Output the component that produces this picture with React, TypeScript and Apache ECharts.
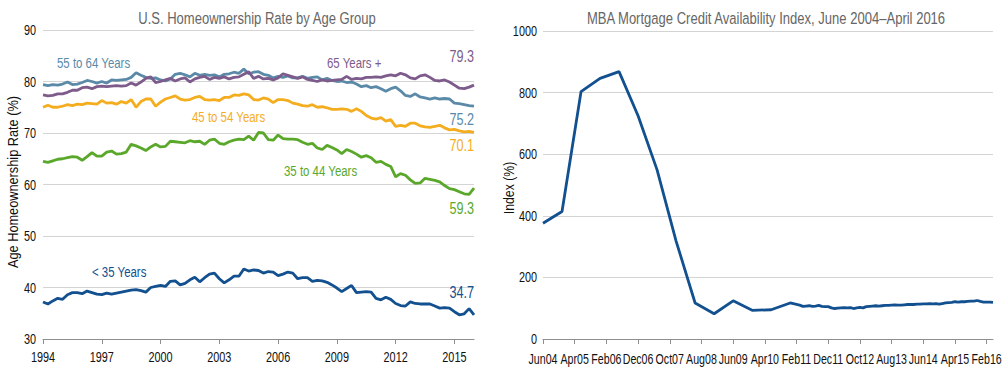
import React, { useEffect, useRef } from "react";
import * as echarts from "echarts";

// ---------- Left chart: quarterly homeownership rates, 1994 Q1 – 2016 Q1 ----------
const firstYear = 1994;
const yearTicks = ["1994", "1997", "2000", "2003", "2006", "2009", "2012", "2015"];
const leftYTicks = [30, 40, 50, 60, 70, 80, 90];

const age55to64 = [
  79.4, 79.2, 79.4, 79.3, 79.5, 79.9, 79.4, 79.5, 79.8, 80.2, 80.0, 79.7,
  80.0, 79.7, 80.3, 80.2, 80.3, 80.4, 80.8, 81.7, 81.2, 80.8, 80.6, 80.7,
  80.3, 80.1, 80.5, 81.4, 81.6, 81.3, 80.9, 81.6, 81.2, 81.4, 81.2, 81.3,
  80.9, 81.4, 81.5, 81.8, 81.6, 82.4, 81.5, 81.8, 81.9, 81.4, 81.2, 80.7,
  81.0, 80.8, 81.1, 80.7, 80.7, 81.0, 80.6, 80.8, 80.9, 80.3, 80.6, 80.2,
  80.0, 80.1, 79.8, 79.9, 79.5, 79.0, 79.2, 78.8, 79.0, 78.6, 78.1, 78.6,
  78.9, 78.2, 77.3, 77.1, 77.6, 77.0, 76.8, 76.6, 76.8, 76.6, 76.7, 76.6,
  75.8, 75.7, 75.5, 75.3, 75.2,
];

const age65plus = [
  77.4, 77.2, 77.3, 77.6, 77.6, 77.9, 78.3, 78.3, 78.8, 78.9, 78.6, 79.0,
  79.1, 79.0, 79.1, 79.2, 79.1, 79.2, 79.7, 79.3, 79.9, 80.6, 80.9, 79.8,
  80.0, 80.3, 80.6, 80.1, 80.5, 80.7, 79.9, 80.5, 80.8, 81.0, 80.4, 80.8,
  80.6, 80.9, 80.5, 80.8, 80.9, 81.4, 81.9, 80.6, 81.0, 80.5, 80.6, 80.3,
  80.7, 81.5, 81.2, 80.9, 80.6, 80.9, 80.4, 80.2, 80.0, 80.3, 80.1, 80.2,
  80.3, 80.4, 81.0, 80.4, 80.6, 80.5, 80.8, 80.8, 80.9, 80.8, 81.1, 81.3,
  81.1, 81.6, 81.3, 80.7, 80.5, 81.1, 81.3, 80.8, 80.2, 80.1, 80.3, 79.9,
  79.3, 78.7, 78.6, 78.9, 79.3,
];

const age45to54 = [
  75.0, 75.4, 75.0, 75.0, 75.2, 75.5, 75.3, 75.6, 75.5, 75.8, 75.7, 75.6,
  76.3, 75.8, 75.9, 75.6, 76.1, 75.8, 76.5, 75.0, 76.1, 76.6, 76.6, 75.2,
  76.0, 76.6, 76.9, 77.2, 76.6, 76.4, 76.5, 76.9, 77.1, 76.5, 76.4, 76.5,
  76.3, 76.9, 76.9, 77.4, 77.3, 77.6, 77.4, 76.5, 76.4, 76.8, 76.6, 75.9,
  76.5, 76.5, 76.3, 75.8, 75.6, 75.3, 75.2, 75.5, 75.0, 75.1, 74.9, 74.6,
  74.6, 74.7, 74.6, 74.2, 74.7, 74.2, 73.4, 72.9, 72.7, 73.0, 72.3, 72.6,
  71.3, 71.5, 71.3, 71.9, 71.9, 71.4, 71.2, 71.1, 71.3, 71.5, 71.0, 70.6,
  70.7, 70.4, 70.2, 70.3, 70.1,
];

const age35to44 = [
  64.5, 64.3, 64.6, 64.9, 65.0, 65.2, 65.4, 65.3, 64.7, 65.4, 66.2, 65.5,
  65.5, 66.3, 66.5, 65.9, 66.0, 66.3, 67.8, 67.5, 67.1, 66.6, 67.3, 67.8,
  67.3, 67.4, 68.4, 68.3, 68.2, 68.1, 68.5, 68.3, 68.4, 67.8, 68.6, 68.8,
  68.0, 67.8, 68.3, 68.6, 68.8, 68.7, 69.4, 68.6, 70.1, 70.0, 68.7, 68.6,
  69.6, 68.9, 68.8, 68.8, 68.7, 68.2, 67.8, 68.0, 67.1, 66.8, 67.6, 67.2,
  66.7, 66.0, 66.8, 66.4, 65.9, 65.3, 65.6, 65.2, 64.3, 64.5, 63.9, 63.5,
  61.5, 62.1, 61.8, 60.9, 60.2, 60.3, 61.2, 61.0, 60.8, 60.5, 59.8, 59.2,
  59.0, 58.6, 58.2, 58.1, 59.3,
];

const under35 = [
  37.2, 36.8, 37.4, 37.9, 37.7, 38.6, 39.0, 39.0, 38.8, 39.3, 39.0, 38.7,
  38.6, 38.9, 38.7, 38.9, 39.1, 39.3, 39.5, 39.6, 39.4, 39.1, 40.0, 40.2,
  40.4, 40.2, 41.2, 41.3, 40.5, 40.8, 41.5, 42.0, 41.1, 41.9, 42.6, 42.8,
  41.7, 40.9, 41.5, 42.2, 42.2, 43.6, 43.2, 43.4, 43.3, 42.8, 43.1, 43.0,
  42.3, 42.6, 43.0, 42.8, 41.7, 41.9, 41.9, 41.2, 41.4, 41.3, 41.0, 40.5,
  39.9, 39.2, 39.8, 40.4, 39.0, 39.1, 39.2, 39.1, 37.9, 37.6, 38.1, 37.7,
  36.9, 36.5, 36.4, 37.2, 36.9, 36.8, 36.8, 36.8, 36.4, 36.0, 36.1, 36.0,
  35.3, 34.7, 34.9, 35.9, 34.7,
];

// ---------- Right chart: MBA Mortgage Credit Availability Index ----------
const monthNames = ["Jan", "Feb", "Mar", "Apr", "May", "Jun", "Jul", "Aug", "Sep", "Oct", "Nov", "Dec"];
const rightYTicks = [0, 200, 400, 600, 800, 1000];
const monthTickStep = 10;
// semiannual readings, Jun 2004 – Dec 2010
const mbaSemiannual = [376, 414, 803, 846, 868, 725, 549, 318, 117, 82, 124, 93, 95, 117];
// monthly readings, Mar 2011 – Apr 2016
const mbaMonthly = [
  110, 106, 107, 108, 106, 107, 109, 106, 105, 105,
  101, 99, 100, 101, 102, 101, 102, 99, 101, 103, 101, 105,
  106, 107, 108, 107, 108, 109, 109, 110, 111, 110, 110, 111,
  112, 112, 112, 113, 113, 114, 114, 115, 114, 115, 113, 115,
  117, 118, 119, 121, 120, 121, 121, 122, 123, 123, 125, 122,
  120, 120, 120, 119,
];

const FONT = '"Liberation Sans", Arial, sans-serif';
const SQUEEZE = 0.79;
const NUM_SQUEEZE = 0.75;

const COLORS = {
  a55: "#5a8aa8",
  a65: "#7d5b8b",
  a45: "#f4ad1f",
  a35: "#5aa82a",
  u35: "#12508f",
  mba: "#12508f",
};

const quarters: string[] = [];
for (let i = 0; i < age55to64.length; i++) {
  quarters.push(`${firstYear + Math.floor(i / 4)} Q${(i % 4) + 1}`);
}
const monthCount = 143;
const months: string[] = [];
for (let i = 0; i < monthCount; i++) {
  const m = (5 + i) % 12;
  const y = 2004 + Math.floor((5 + i) / 12);
  months.push(`${monthNames[m]}${String(y % 100).padStart(2, "0")}`);
}

function baseOption() {
  const mbaData: (number | null)[] = new Array(monthCount).fill(null);
  mbaSemiannual.forEach((v, i) => (mbaData[i * 6] = v));
  const monthlyStart = monthCount - mbaMonthly.length;
  mbaMonthly.forEach((v, i) => (mbaData[monthlyStart + i] = v));

  const lineSeries = (name: string, data: number[], color: string) => ({
    type: "line",
    name,
    xAxisIndex: 0,
    yAxisIndex: 0,
    data,
    showSymbol: false,
    lineStyle: { color, width: 2.8 },
    itemStyle: { color },
    z: 3,
  });

  const xAxisCommon = {
    type: "category",
    boundaryGap: false,
    axisLine: { lineStyle: { color: "#8f8f8f", width: 1 } },
    axisLabel: { show: false },
    splitLine: { show: false },
  };
  const yAxisCommon = {
    type: "value",
    axisLine: { show: false },
    axisTick: { show: false },
    splitLine: { lineStyle: { color: "#d4d4d4", width: 1 } },
    axisLabel: { show: false },
  };

  return {
    animation: false,
    backgroundColor: "#ffffff",
    textStyle: { fontFamily: FONT },
    grid: [
      { left: 43, top: 30, width: 431, height: 309 },
      { left: 543, top: 31, width: 450, height: 308 },
    ],
    xAxis: [
      {
        ...xAxisCommon,
        gridIndex: 0,
        data: quarters,
        axisTick: { show: true, interval: 11, length: 5, lineStyle: { color: "#8f8f8f" } },
      },
      {
        ...xAxisCommon,
        gridIndex: 1,
        data: months,
        axisTick: { show: true, interval: monthTickStep - 1, length: 5, lineStyle: { color: "#8f8f8f" } },
      },
    ],
    yAxis: [
      { ...yAxisCommon, gridIndex: 0, min: 30, max: 90, interval: 10 },
      { ...yAxisCommon, gridIndex: 1, min: 0, max: 1000, interval: 200 },
    ],
    series: [
      lineSeries("55 to 64 Years", age55to64, COLORS.a55),
      lineSeries("65 Years +", age65plus, COLORS.a65),
      lineSeries("45 to 54 Years", age45to54, COLORS.a45),
      lineSeries("35 to 44 Years", age35to44, COLORS.a35),
      lineSeries("< 35 Years", under35, COLORS.u35),
      {
        type: "line",
        name: "MBA Mortgage Credit Availability Index",
        xAxisIndex: 1,
        yAxisIndex: 1,
        data: mbaData,
        connectNulls: true,
        showSymbol: false,
        lineStyle: { color: COLORS.mba, width: 2.8 },
        itemStyle: { color: COLORS.mba },
      },
    ],
  };
}

// condensed text (the source uses a condensed face)
const ct = (
  text: string,
  x: number,
  y: number,
  color: string,
  align = "left",
  size = 14.5,
  sx = SQUEEZE,
  rotation = 0
) => ({
  type: "text",
  x,
  y,
  scaleX: sx,
  rotation,
  silent: true,
  z: 10,
  style: {
    text,
    fill: color,
    font: `${size}px ${FONT}`,
    textAlign: align,
    textVerticalAlign: "middle",
  },
});

function buildGraphics(chart: echarts.ECharts) {
  const last = (a: number[]) => a[a.length - 1].toFixed(1);
  const g: any[] = [
    ct("U.S. Homeownership Rate by Age Group", 257, 18, "#666", "center", 16.5),
    ct("MBA Mortgage Credit Availability Index, June 2004–April 2016", 766, 18, "#666", "center", 16.5),
    ct("Age Homeownership Rate (%)", 13, 182, "#111", "center", 15, 0.85, Math.PI / 2),
    ct("Index (%)", 509, 188, "#111", "center", 15, 0.82, Math.PI / 2),
    ct("55 to 64 Years", 57, 63, COLORS.a55),
    ct("65 Years +", 327, 63, COLORS.a65),
    ct(last(age65plus), 474, 56, COLORS.a65, "right", 16),
    ct(last(age55to64), 474, 119, COLORS.a55, "right", 16),
    ct("45 to 54 Years", 192, 117, COLORS.a45),
    ct(last(age45to54), 474, 145, COLORS.a45, "right", 16),
    ct("35 to 44 Years", 284, 171, COLORS.a35),
    ct(last(age35to44), 474, 208, COLORS.a35, "right", 16),
    ct("< 35 Years", 92, 272, COLORS.u35),
    ct(last(under35), 474, 292, COLORS.u35, "right", 16),
  ];
  // axis tick labels, placed through the axes' own scales
  yearTicks.forEach((yr) => {
    const idx = (Number(yr) - firstYear) * 4;
    const px = chart.convertToPixel({ xAxisIndex: 0 } as any, quarters[idx]) as number;
    g.push(ct(yr, px, 357, "#111", "center", 14.5, NUM_SQUEEZE));
  });
  for (let i = 0; i < monthCount; i += monthTickStep) {
    const px = chart.convertToPixel({ xAxisIndex: 1 } as any, months[i]) as number;
    g.push(ct(months[i], px, 359, "#111", "center", 14, 0.76));
  }
  leftYTicks.forEach((v) => {
    const py = chart.convertToPixel({ yAxisIndex: 0 } as any, v) as number;
    g.push(ct(String(v), 36, py, "#111", "right", 14.5, NUM_SQUEEZE));
  });
  rightYTicks.forEach((v) => {
    const py = chart.convertToPixel({ yAxisIndex: 1 } as any, v) as number;
    g.push(ct(String(v), 537, py, "#111", "right", 14.5, NUM_SQUEEZE));
  });
  return g;
}

export default function App() {
  const ref = useRef<HTMLDivElement>(null);
  useEffect(() => {
    if (!ref.current) return;
    const chart = echarts.init(ref.current, undefined, { renderer: "svg" });
    chart.setOption(baseOption() as any);
    chart.setOption({ graphic: buildGraphics(chart) } as any);
    return () => chart.dispose();
  }, []);
  return (
    <div
      ref={ref}
      style={{ position: "fixed", left: 0, top: 0, width: 1002, height: 374, background: "#fff" }}
    />
  );
}
